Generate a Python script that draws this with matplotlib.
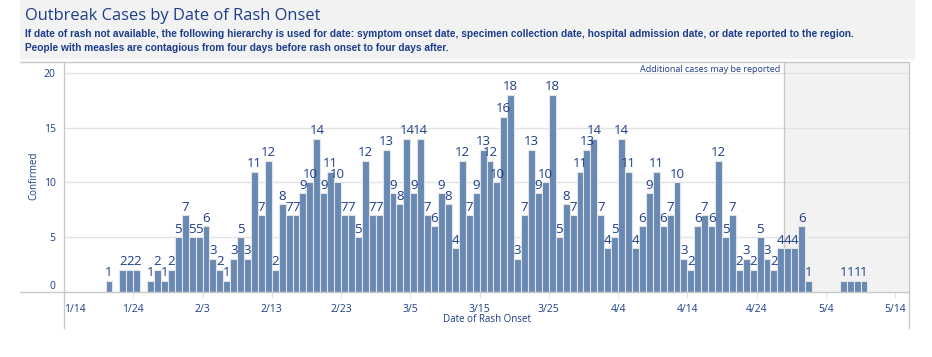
import matplotlib
matplotlib.use("Agg")
import matplotlib.pyplot as plt
from matplotlib.lines import Line2D
from matplotlib.patches import Rectangle
from matplotlib import font_manager
import pandas as pd

# ---------------- data ----------------
dates = pd.date_range("2025-01-20", "2025-05-09", freq="D")
cases = [1, 0, 2, 2, 2, 0, 1, 2, 1, 2,          # 1/20 - 1/29
         5, 7, 5, 5, 6, 3, 2, 1, 3, 5,          # 1/30 - 2/8
         3, 11, 7, 12, 2, 8, 7, 7, 9, 10,       # 2/9 - 2/18
         14, 9, 11, 10, 7, 7, 5, 12, 7, 7,      # 2/19 - 2/28
         13, 9, 8, 14, 9, 14, 7, 6, 9, 8,       # 3/1 - 3/10
         4, 12, 7, 9, 13, 12, 10, 16, 18, 3,    # 3/11 - 3/20
         7, 13, 9, 10, 18, 5, 8, 7, 11, 13,     # 3/21 - 3/30
         14, 7, 4, 5, 14, 11, 4, 6, 9, 11,      # 3/31 - 4/9
         6, 7, 10, 3, 2, 6, 7, 6, 12, 5,        # 4/10 - 4/19
         7, 2, 3, 2, 5, 3, 2, 4, 4, 4,          # 4/20 - 4/29
         6, 1, 0, 0, 0, 0, 1, 1, 1, 1]          # 4/30 - 5/9
tick_dates = pd.date_range("2025-01-14", "2025-05-14", freq="10D")
tick_labels = [f"{d.month}/{d.day}" for d in tick_dates]
y_ticks = [0, 5, 10, 15, 20]
shade_start = pd.Timestamp("2025-04-28")
x_start = pd.Timestamp("2025-01-14")
x_end = pd.Timestamp("2025-05-16")

title = "Outbreak Cases by Date of Rash Onset"
sub1 = ("If date of rash not available, the following hierarchy is used for date: symptom onset date, "
        "specimen collection date, hospital admission date, or date reported to the region.")
sub2 = "People with measles are contagious from four days before rash onset to four days after."

# ---------------- style ----------------
W, H = 932, 357
TXT = "#1c3d8c"
BAR = "#6889b3"
LINE = "#c8c8c8"
GRID = "#e2e2e2"
SHADE = "#f2f2f2"

plt.rcParams["font.family"] = ["Open Sans", "DejaVu Sans"]

fig = plt.figure(figsize=(W / 100, H / 100), dpi=100)
fig.patch.set_facecolor("white")
renderer = fig.canvas.get_renderer()


def fx(px):
    return px / W


def fy(py):
    return 1 - py / H


def fit_text(t, target_px):
    w = t.get_window_extent(renderer=renderer).width
    if w > 0:
        t.set_fontsize(t.get_fontsize() * target_px / w)


# header band
fig.add_artist(Rectangle((fx(20), fy(58)), fx(914) - fx(20), 1 - fy(58),
                         transform=fig.transFigure, color=SHADE, zorder=0))
t_title = fig.text(fx(25), fy(16), title, fontsize=13, color=TXT, va="center", ha="left")
fit_text(t_title, 295)
t1 = fig.text(fx(25), fy(34), sub1, fontsize=8, color=TXT, va="center", ha="left",
              family=["Liberation Sans"], fontweight="bold")
fit_text(t1, 830)
t2 = fig.text(fx(25), fy(48), sub2, fontsize=t1.get_fontsize(), color=TXT, va="center",
              ha="left", family=["Liberation Sans"], fontweight="bold")

# axes
ax = fig.add_axes([fx(64), fy(292), fx(909) - fx(64), fy(62) - fy(292)])
ax.set_facecolor("none")
for s in ax.spines.values():
    s.set_visible(False)

ax.set_xlim(x_start, x_end)
ax.set_ylim(0, 21)

ax.axvspan(shade_start, x_end, color=SHADE, zorder=0, lw=0)
ax.axvline(shade_start, color=LINE, lw=1, zorder=1)

ax.set_yticks(y_ticks)
ax.set_yticklabels([str(v) for v in y_ticks])
for v in y_ticks[1:]:
    ax.axhline(v, color=GRID, lw=1, zorder=0.5)
ax.tick_params(axis="y", length=0, pad=6, labelsize=7.5, labelcolor=TXT)
ax.get_yticklabels()[0].set_va("bottom")

ax.set_xticks(tick_dates)
ax.set_xticklabels(tick_labels)
ax.tick_params(axis="x", length=4, color="#e0e0e0", pad=5, labelsize=7.5, labelcolor=TXT)
ax.get_xticklabels()[0].set_ha("left")

ax.bar(dates, cases, width=1, align="edge", color=BAR, edgecolor="#e4e4e4",
       linewidth=0.8, zorder=2)
for d, v in zip(dates, cases):
    if v > 0:
        ax.text(d + pd.Timedelta(hours=12), v + 0.15, str(v), ha="center", va="bottom",
                fontsize=9.5, color=TXT, zorder=3)

# frame lines
for (x0, y0, x1, y1) in [(20, 62, 909, 62), (20, 292, 909, 292),
                         (64, 62, 64, 328), (909, 62, 909, 328)]:
    fig.add_artist(Line2D([fx(x0), fx(x1)], [fy(y0), fy(y1)], transform=fig.transFigure,
                          color=LINE, lw=1, zorder=5))

fig.text(fx(780), fy(70), "Additional cases may be reported", fontsize=6.5, color=TXT,
         ha="right", va="center")
fig.text(fx(34), fy(176), "Confirmed", fontsize=7, color=TXT, rotation=90,
         ha="center", va="center")
fig.text(fx(487), fy(320), "Date of Rash Onset", fontsize=7, color=TXT,
         ha="center", va="center")

fig.savefig("out.png", dpi=100)
